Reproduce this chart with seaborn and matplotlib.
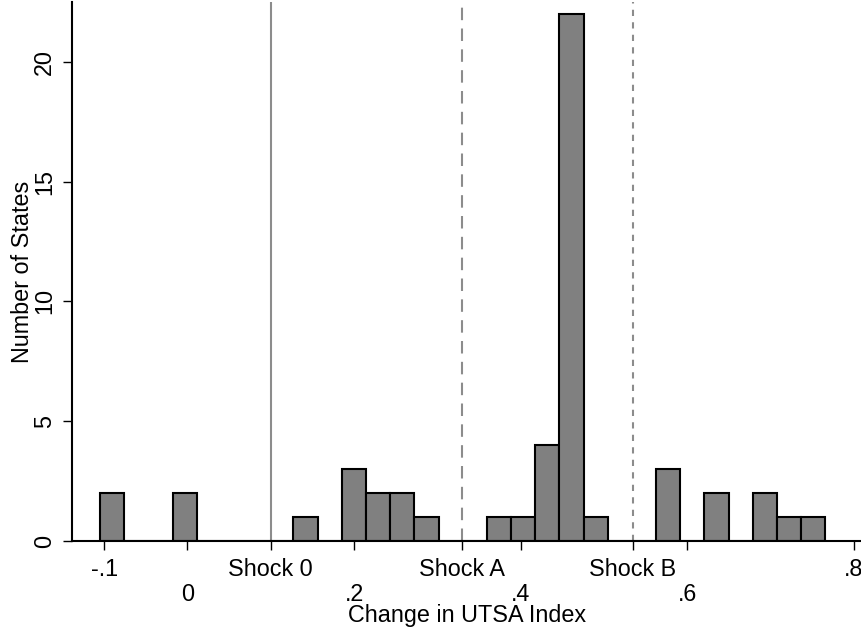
import seaborn as sns
import matplotlib.pyplot as plt
import numpy as np
import pandas as pd

# histogram: 30 bins from -0.105 to 0.766, counts per occupied bin
bin_start = -0.105
bin_end = 0.766
n_bins = 30
bin_index = [0, 3, 8, 10, 11, 12, 13, 16, 17, 18, 19, 20, 23, 25, 27, 28, 29]
counts = [2, 2, 1, 3, 2, 2, 1, 1, 1, 4, 22, 1, 3, 2, 2, 1, 1]

shock_pos = [0.1, 0.33, 0.535]
shock_names = ["Shock 0", "Shock A", "Shock B"]
shock_styles = ["-", (0, (6, 4)), (0, (3, 3))]

upper_ticks = [-0.1, 0.1, 0.33, 0.535, 0.8]
upper_labels = ["-.1", "Shock 0", "Shock A", "Shock B", ".8"]
lower_ticks = [0.0, 0.2, 0.4, 0.6]
lower_labels = ["0", ".2", ".4", ".6"]

y_ticks = [0, 5, 10, 15, 20]

edges = np.linspace(bin_start, bin_end, n_bins + 1)
width = edges[1] - edges[0]
df = pd.DataFrame({
    "change": [edges[i] + width / 2 for i in bin_index],
    "n": counts,
})

sns.set_style("white")
plt.rcParams['font.family'] = ['Liberation Sans', 'DejaVu Sans']
plt.rcParams['font.size'] = 16.8
plt.rcParams['text.color'] = 'black'
plt.rcParams['axes.labelcolor'] = 'black'
plt.rcParams['xtick.color'] = 'black'
plt.rcParams['ytick.color'] = 'black'

fig = plt.figure(figsize=(8.62, 6.34), dpi=100)
ax = fig.add_axes([0.0835, 0.1467, 0.9165, 0.8503])

sns.histplot(data=df, x="change", weights="n", bins=list(edges), color="#808080",
             edgecolor="black", linewidth=1.5, alpha=1, ax=ax)

for pos, ls in zip(shock_pos, shock_styles):
    ax.axvline(pos, color="#8c8c8c", linestyle=ls, linewidth=1.5, zorder=0)

ax.set_xlim(-0.1387, 0.81)
ax.set_ylim(0, 22.5)

ax.set_xticks(upper_ticks)
ax.set_xticklabels(upper_labels)
ax.set_xticks(lower_ticks, minor=True)
ax.set_xticklabels(lower_labels, minor=True)
ax.tick_params(axis="x", which="major", length=6.5, width=1, color="black",
               direction="out", bottom=True, pad=6)
ax.tick_params(axis="x", which="minor", length=6.5, width=1, color="black",
               direction="out", bottom=True, pad=23.5, labelsize=16.8,
               labelcolor="black")

ax.set_yticks(y_ticks)
ax.tick_params(axis="y", length=6.5, width=1, color="black", direction="out",
               left=True, pad=5)
for lab in ax.get_yticklabels():
    lab.set_rotation(90)
    lab.set_va("center")

ax.set_xlabel("Change in UTSA Index", labelpad=-1.5)
ax.set_ylabel("Number of States", labelpad=-1)

for side in ["top", "right"]:
    ax.spines[side].set_visible(False)
for side in ["left", "bottom"]:
    ax.spines[side].set_linewidth(1.5)
    ax.spines[side].set_color("black")

fig.savefig("out.png", dpi=100)
